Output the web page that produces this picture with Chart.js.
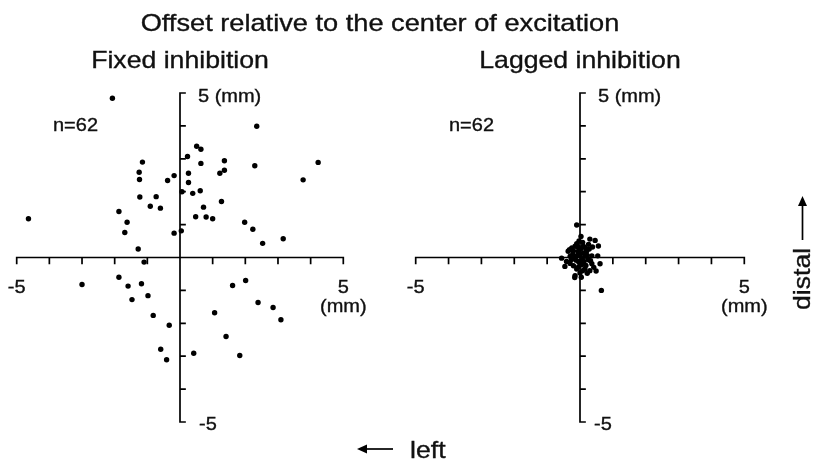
<!DOCTYPE html>
<html>
<head>
<meta charset="utf-8">
<script src="https://cdn.jsdelivr.net/npm/chart.js@4.4.1/dist/chart.umd.min.js"></script>
<style>
  html, body { margin: 0; padding: 0; background: #fff; }
  #wrap { position: relative; width: 816px; height: 460px; overflow: hidden; }
  #wrap canvas { position: absolute; left: 0; top: 0; }
</style>
</head>
<body>
<div id="wrap">
  <canvas id="fixed" width="816" height="460"></canvas>
  <canvas id="lagged" width="816" height="460"></canvas>
</div>
<script>
// ---------------- data (mm) ----------------
const figureTitle = "Offset relative to the center of excitation";
const panelTitles = ["Fixed inhibition", "Lagged inhibition"];
const countLabel = "n=62";
const tickValues = [-5, -4, -3, -2, -1, 0, 1, 2, 3, 4, 5];
const xEndLabels = ["-5", "5"];
const xUnitLabel = "(mm)";
const yTopLabel = "5 (mm)";
const yBottomLabel = "-5";
const horizontalDirection = "left";
const verticalDirection = "distal";

const fixedX = [-2.07, 2.35, 0.51, 0.64, 0.23, -1.15, 1.36, 0.64, 2.29, 4.23,
  -1.25, 0.26, 1.36, 1.22, -0.18, -1.24, -0.38, 0.26, 3.77, 0.06,
  0.62, 0.39, -1.23, -0.73, 1.27, -0.91, -0.60, 0.72, -1.87, 0.48,
  0.80, 1.00, -4.64, -1.62, 1.98, 2.23, 3.16, -1.69, 0.04, -0.18,
  2.53, -1.28, -1.10, -3.00, -1.87, -1.59, -1.18, -1.47, -0.98, -0.82,
  -0.33, -0.59, -0.41, 0.42, 1.06, 1.61, 2.01, 1.41, 1.83, 2.39,
  2.85, 3.09];
const fixedY = [4.84, 3.99, 3.38, 3.29, 3.07, 2.90, 2.94, 2.86, 2.79, 2.89,
  2.59, 2.56, 2.65, 2.56, 2.49, 2.37, 2.34, 2.28, 2.36, 2.00,
  2.03, 1.95, 1.84, 1.85, 1.70, 1.56, 1.50, 1.53, 1.40, 1.24,
  1.23, 1.18, 1.18, 1.07, 1.07, 0.86, 0.57, 0.76, 0.81, 0.74,
  0.43, 0.26, -0.14, -0.82, -0.60, -0.87, -0.80, -1.28, -1.16, -1.76,
  -2.06, -2.79, -3.11, -2.91, -1.68, -0.85, -0.70, -2.40, -2.98, -1.37,
  -1.52, -1.89];

const laggedX = [-0.10, 0.65, -0.16, 0.61, -0.56, 0.46, 0.56, 0.49, 0.30, 0.03,
  0.30, 0.38, -0.25, -0.15, 0.10, -0.36, -0.05, 0.20, -0.30, 0.15,
  0.36, 0.54, -0.15, -0.41, -0.05, 0.25, 0.05, -0.20, 0.36, -0.10,
  0.15, 0.00, -0.15, -0.46, 0.42, 0.00, 0.06, -0.08, 0.10, -0.12,
  0.12, 0.02, -0.22, 0.22, -0.04, 0.08, -0.03, 0.18, -0.26, 0.28,
  -0.10, 0.32, 0.00, 0.16, -0.30, 0.22, -0.20, 0.08, -0.06, 0.26,
  -0.32, 0.04];
const laggedY = [0.99, -1.00, -0.61, -0.19, -0.02, 0.52, 0.35, -0.41, -0.40, 0.64,
  0.56, 0.32, 0.29, 0.34, 0.34, 0.19, 0.19, 0.19, 0.04, 0.04,
  0.05, 0.05, 0.02, -0.12, -0.12, -0.07, -0.22, -0.25, -0.19, -0.35,
  -0.35, -0.47, -0.55, -0.27, -0.30, 0.08, -0.04, 0.06, 0.14, -0.08,
  -0.12, 0.26, 0.10, 0.06, -0.28, 0.46, 0.50, -0.24, -0.06, 0.26,
  0.42, -0.10, -0.16, 0.30, -0.18, -0.48, 0.20, -0.40, 0.32, 0.40,
  0.24, -0.60];

// ---------------- drawing helpers ----------------
const FONT = '"Liberation Sans", Arial, Helvetica, sans-serif';
const STRETCH = 1.11;

function drawText(ctx, s, x, y, size, align, rot) {
  ctx.save();
  ctx.translate(x, y);
  if (rot) ctx.rotate(rot);
  ctx.scale(STRETCH, 1);
  ctx.font = size + 'px ' + FONT;
  ctx.textAlign = align;
  ctx.textBaseline = 'alphabetic';
  ctx.fillStyle = '#111';
  ctx.strokeStyle = '#111';
  ctx.lineWidth = 0.35;
  ctx.fillText(s, 0, 0);
  ctx.strokeText(s, 0, 0);
  ctx.restore();
}

function arrow(ctx, x1, y1, x2, y2) {
  // shaft from (x1,y1) to tip (x2,y2)
  const ang = Math.atan2(y2 - y1, x2 - x1);
  const hl = 10, hw = 4.5;
  ctx.save();
  ctx.strokeStyle = '#000';
  ctx.fillStyle = '#000';
  ctx.lineWidth = 1.7;
  ctx.beginPath();
  ctx.moveTo(x1, y1);
  ctx.lineTo(x2 - Math.cos(ang) * (hl - 1), y2 - Math.sin(ang) * (hl - 1));
  ctx.stroke();
  ctx.beginPath();
  ctx.moveTo(x2, y2);
  ctx.lineTo(x2 - Math.cos(ang) * hl - Math.sin(ang) * hw, y2 - Math.sin(ang) * hl + Math.cos(ang) * hw);
  ctx.lineTo(x2 - Math.cos(ang) * hl + Math.sin(ang) * hw, y2 - Math.sin(ang) * hl - Math.cos(ang) * hw);
  ctx.closePath();
  ctx.fill();
  ctx.restore();
}

const crossAxesPlugin = {
  id: 'crossAxes',
  beforeDatasetsDraw(chart) {
    const ctx = chart.ctx;
    const xs = chart.scales.x, ys = chart.scales.y;
    const x0 = xs.getPixelForValue(0), y0 = ys.getPixelForValue(0);
    const xa = xs.getPixelForValue(tickValues[0]), xb = xs.getPixelForValue(tickValues[tickValues.length - 1]);
    const ya = ys.getPixelForValue(tickValues[tickValues.length - 1]), yb = ys.getPixelForValue(tickValues[0]);
    ctx.save();
    ctx.strokeStyle = '#000';
    ctx.lineWidth = 1.7;
    ctx.lineCap = 'square';
    ctx.beginPath();
    ctx.moveTo(xa, y0); ctx.lineTo(xb, y0);
    ctx.moveTo(x0, ya); ctx.lineTo(x0, yb);
    tickValues.forEach(v => {
      if (v === 0) return;
      const px = xs.getPixelForValue(v);
      ctx.moveTo(px, y0); ctx.lineTo(px, y0 + 6);
      const py = ys.getPixelForValue(v);
      ctx.moveTo(x0, py); ctx.lineTo(x0 + 5, py);
    });
    ctx.stroke();
    ctx.restore();
  },
  afterDraw(chart, args, opts) {
    const ctx = chart.ctx;
    const xs = chart.scales.x, ys = chart.scales.y;
    const x0 = xs.getPixelForValue(0), y0 = ys.getPixelForValue(0);
    const xmin = xs.getPixelForValue(tickValues[0]);
    const xmax = xs.getPixelForValue(tickValues[tickValues.length - 1]);
    const ytop = ys.getPixelForValue(tickValues[tickValues.length - 1]);
    const ybot = ys.getPixelForValue(tickValues[0]);
    drawText(ctx, xEndLabels[0], xmin, y0 + 35, 18, 'center');
    drawText(ctx, xEndLabels[1], xmax, y0 + 35, 18, 'center');
    drawText(ctx, xUnitLabel, xmax, y0 + 54, 18, 'center');
    drawText(ctx, yTopLabel, x0 + 18, ytop + 8.5, 18, 'left');
    drawText(ctx, yBottomLabel, x0 + opts.bottomLabelOffset, ybot + 8, 18, 'left');
    drawText(ctx, opts.heading, x0, 67.5, 24, 'center');
    drawText(ctx, countLabel, x0 + opts.countOffset, 131, 18, 'left');
    if (opts.figureTitle) {
      drawText(ctx, figureTitle, 380, 30.5, 24.5, 'center');
      arrow(ctx, 393, 449, 357, 449);
      drawText(ctx, horizontalDirection, 410, 458, 24, 'left');
    }
    if (opts.vertical) {
      arrow(ctx, 802.5, 240, 802.5, 196);
      drawText(ctx, verticalDirection, 810, 310, 24, 'left', -Math.PI / 2);
    }
  }
};

function makePanel(id, xs, ysArr, pad, extra) {
  const pts = xs.map((x, i) => ({ x: x, y: ysArr[i] }));
  return new Chart(document.getElementById(id), {
    type: 'scatter',
    data: {
      datasets: [{
        data: pts,
        backgroundColor: '#000',
        borderColor: '#000',
        borderWidth: 0,
        pointRadius: 2.7,
        pointHoverRadius: 2.7
      }]
    },
    options: {
      responsive: false,
      animation: false,
      devicePixelRatio: 1,
      events: [],
      layout: { padding: pad },
      plugins: {
        legend: { display: false },
        tooltip: { enabled: false },
        crossAxes: extra
      },
      scales: {
        x: { type: 'linear', min: tickValues[0], max: tickValues[tickValues.length - 1], display: false },
        y: { type: 'linear', min: tickValues[0], max: tickValues[tickValues.length - 1], display: false }
      }
    },
    plugins: [crossAxesPlugin]
  });
}

makePanel('fixed', fixedX, fixedY,
  { left: 16.7, right: 472.7, top: 93, bottom: 38 },
  { heading: panelTitles[0], countOffset: -127, bottomLabelOffset: 19, figureTitle: true, vertical: false });
makePanel('lagged', laggedX, laggedY,
  { left: 415.7, right: 71.7, top: 93, bottom: 38 },
  { heading: panelTitles[1], countOffset: -131, bottomLabelOffset: 14, figureTitle: false, vertical: true });
</script>
</body>
</html>
